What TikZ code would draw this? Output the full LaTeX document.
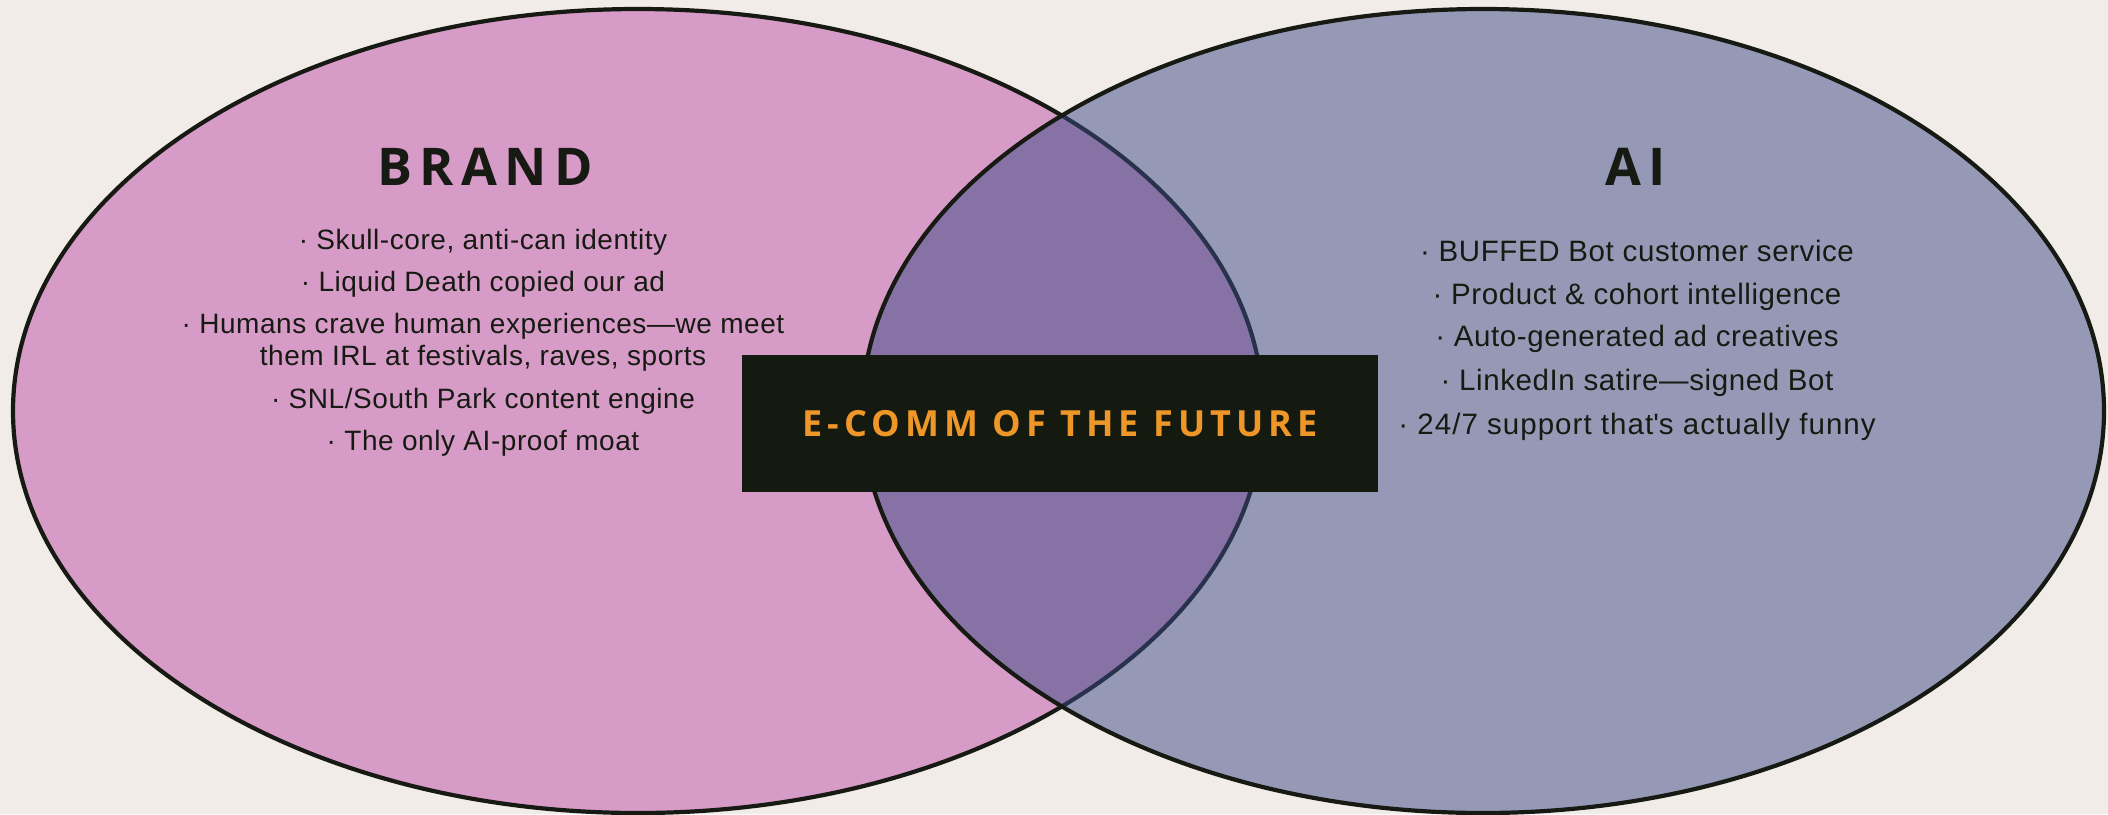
\documentclass[tikz,border=0pt]{standalone}
\usepackage{fontspec}
\setmainfont{Liberation Sans}[LetterSpace=2]
\newfontfamily\headfont[LetterSpace=14]{Open Sans}

\definecolor{paper}{RGB}{242,236,233}
\definecolor{brandpink}{RGB}{215,155,199}
\definecolor{aiblue}{RGB}{60,75,133}
\definecolor{ink}{RGB}{22,26,18}
\definecolor{boxink}{RGB}{21,26,16}
\definecolor{amber}{RGB}{238,150,40}

\begin{document}
\begin{tikzpicture}[x=1pt,y=-1pt,
	item/.style={anchor=base,inner sep=0pt,text=ink,font=\fontsize{28}{34}\selectfont},
	aitem/.style={item,font=\fontsize{29.5}{35}\selectfont},
	head/.style={anchor=base,inner sep=0pt,text=ink,font=\headfont\bfseries\fontsize{52}{60}\selectfont}]
	\fill[paper] (0,0) rectangle (2108,814);
	\useasboundingbox (0,0) rectangle (2108,814);
	
	\coordinate (brand) at (638,411);
	\coordinate (ai) at (1483,411);
	
	% the two sets, the second one see-through so the overlap mixes
	\draw[ink, line width=4.2pt, fill=brandpink] (brand) ellipse [x radius=625, y radius=402];
	\draw[ink, line width=4.2pt, fill=aiblue, fill opacity=0.51] (ai) ellipse [x radius=621, y radius=402];
	
	\node[head] (brandtitle) at (485,185) {BRAND};
	\node[head] (aititle) at (1636,185) {AI};
	
	\node[item] (b1) at (483,249) {· Skull-core, anti-can identity};
	\node[item] (b2) at (483,291) {· Liquid Death copied our ad};
	\node[item] (b3) at (483,333) {· Humans crave human experiences—we meet};
	\node[item] (b3b) at (483,365) {them IRL at festivals, raves, sports};
	\node[item] (b4) at (483,408) {· SNL/South Park content engine};
	\node[item] (b5) at (483,450) {· The only AI-proof moat};
	
	\node[aitem] (a1) at (1637,261) {· BUFFED Bot customer service};
	\node[aitem] (a2) at (1637,304) {· Product \& cohort intelligence};
	\node[aitem] (a3) at (1637,346) {· Auto-generated ad creatives};
	\node[aitem] (a4) at (1637,390) {· LinkedIn satire—signed Bot};
	\node[aitem] (a5) at (1637,434) {\addfontfeature{LetterSpace=3.5}· 24/7 support that\textquotesingle s actually funny};
	
	% banner across the overlap
	\node[fill=boxink, minimum width=636, minimum height=137, inner sep=0pt,
		text=amber, font=\headfont\bfseries\fontsize{36}{40}\selectfont] (future) at (1060,423.5) {E-COMM OF THE FUTURE};
\end{tikzpicture}
\end{document}
